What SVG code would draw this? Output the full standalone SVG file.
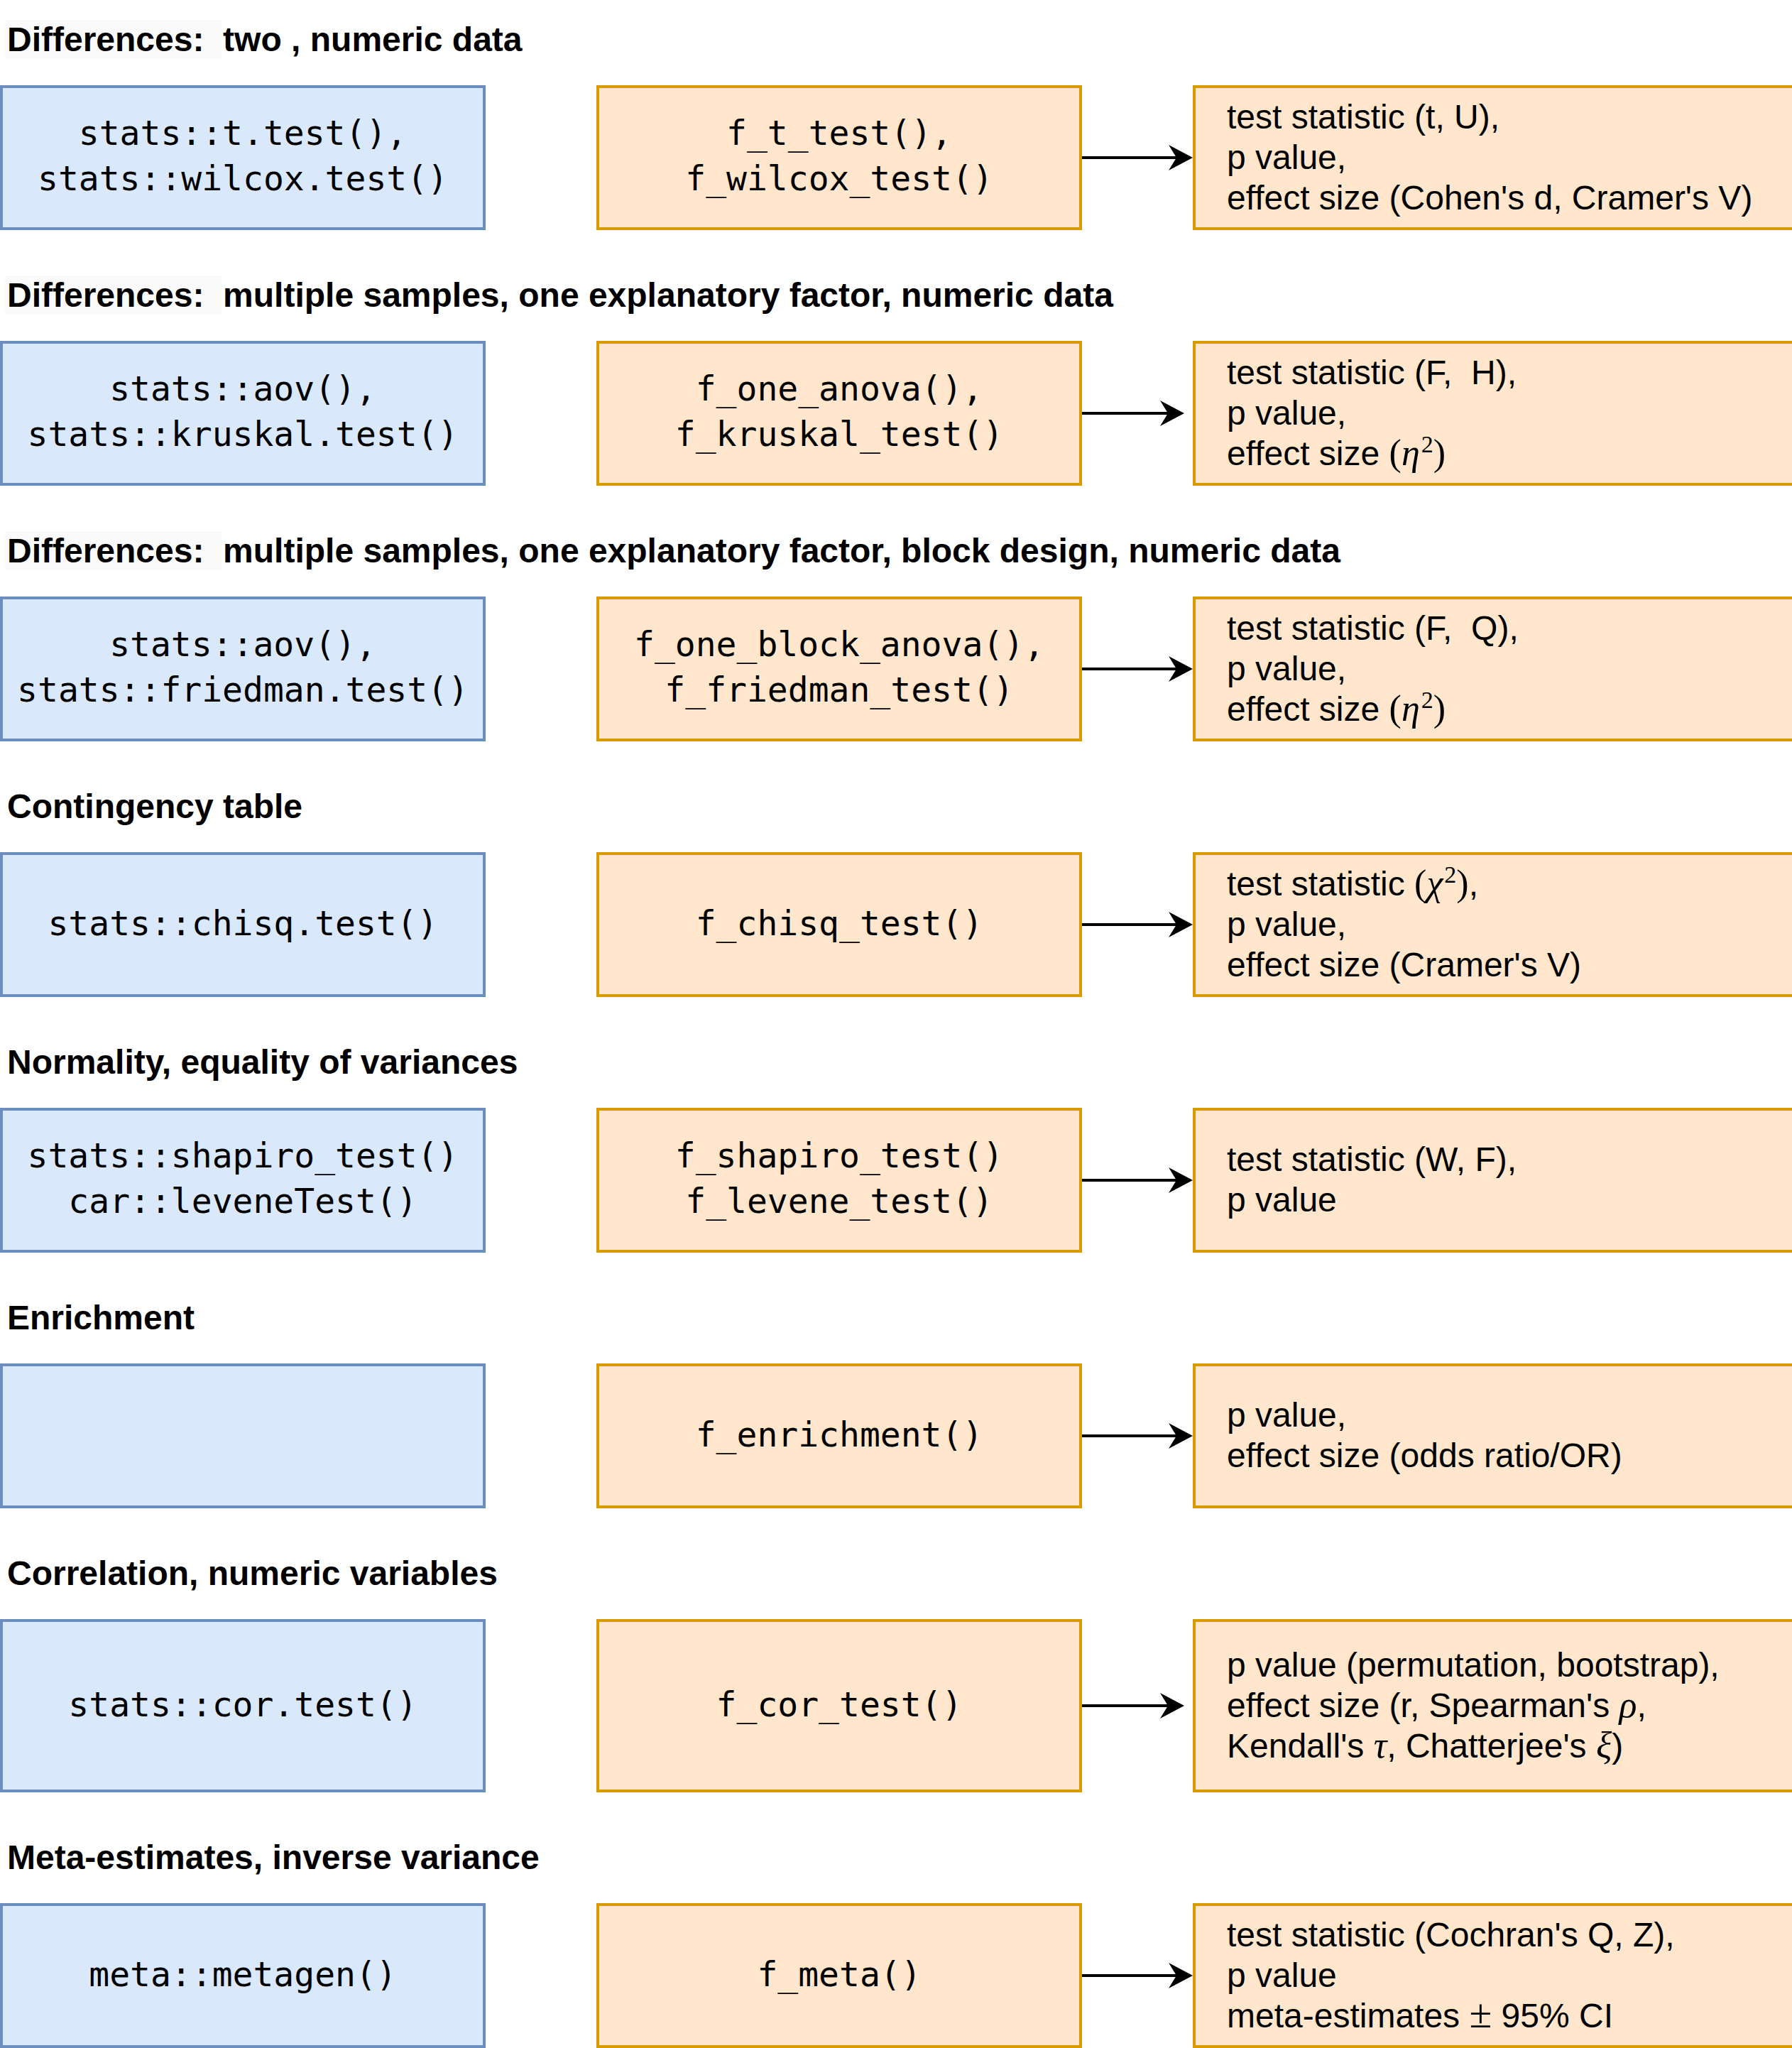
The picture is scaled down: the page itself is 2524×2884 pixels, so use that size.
<svg xmlns="http://www.w3.org/2000/svg" width="2524" height="2884" viewBox="0 0 2524 2884">
<style>
.title{font-family:"Liberation Sans",Arial,sans-serif;font-weight:bold;font-size:48px;fill:#000;white-space:pre}
.tbg{fill:#FAFAFA}
.blue{fill:#dae8fc;stroke:#6c8ebf;stroke-width:4}
.orange{fill:#ffe6cc;stroke:#d79b00;stroke-width:4}
.mono{font-family:"DejaVu Sans Mono","Liberation Mono",monospace;font-size:48px;fill:#000;text-anchor:middle;white-space:pre}
.sans{font-family:"Liberation Sans",Arial,sans-serif;font-size:48px;fill:#000;white-space:pre}
.m{font-family:"Liberation Serif","Times New Roman",serif;font-size:52px}
.mi{font-family:"Liberation Serif","Times New Roman",serif;font-size:52px;font-style:italic}
.sup{font-family:"Liberation Serif","Times New Roman",serif;font-size:34px}
.pm{font-family:"Liberation Serif","Times New Roman",serif;font-size:58px}
.conn{stroke:#000;stroke-width:4;fill:none}
</style>
<defs>
<marker id="arr" markerUnits="userSpaceOnUse" markerWidth="40" markerHeight="40" viewBox="0 -20 36 40" refX="11" refY="0" orient="auto">
<path d="M0,-18 L34,0 L0,18 L11,0 Z" fill="#000"/>
</marker>
</defs>

<g id="titles">
<rect class="tbg" x="7" y="28" width="305" height="55"/>
<text class="title" x="10" y="72">Differences:  two , numeric data</text>
<rect class="tbg" x="7" y="388" width="305" height="55"/>
<text class="title" x="10" y="432">Differences:  multiple samples, one explanatory factor, numeric data</text>
<rect class="tbg" x="7" y="748" width="305" height="55"/>
<text class="title" x="10" y="792">Differences:  multiple samples, one explanatory factor, block design, numeric data</text>
<text class="title" x="10" y="1152">Contingency table</text>
<text class="title" x="10" y="1512">Normality, equality of variances</text>
<text class="title" x="10" y="1872">Enrichment</text>
<text class="title" x="10" y="2232">Correlation, numeric variables</text>
<text class="title" x="10" y="2632">Meta-estimates, inverse variance</text>
</g>

<g id="row1-base">
<rect class="blue" x="2" y="122" width="680" height="200"/>
<text class="mono" x="342" y="204">stats::t.test(),</text>
<text class="mono" x="342" y="268">stats::wilcox.test()</text>
</g>
<g id="row1-f">
<rect class="orange" x="842" y="122" width="680" height="200"/>
<text class="mono" x="1182" y="204">f_t_test(),</text>
<text class="mono" x="1182" y="268">f_wilcox_test()</text>
</g>
<g id="row1-out">
<rect class="orange" x="1682" y="122" width="900" height="200"/>
<text class="sans" x="1728" y="181">test statistic (t, U),</text>
<text class="sans" x="1728" y="238">p value,</text>
<text class="sans" x="1728" y="295">effect size (Cohen's d, Cramer's V)</text>
</g>

<g id="row2-base">
<rect class="blue" x="2" y="482" width="680" height="200"/>
<text class="mono" x="342" y="564">stats::aov(),</text>
<text class="mono" x="342" y="628">stats::kruskal.test()</text>
</g>
<g id="row2-f">
<rect class="orange" x="842" y="482" width="680" height="200"/>
<text class="mono" x="1182" y="564">f_one_anova(),</text>
<text class="mono" x="1182" y="628">f_kruskal_test()</text>
</g>
<g id="row2-out">
<rect class="orange" x="1682" y="482" width="900" height="200"/>
<text class="sans" x="1728" y="541">test statistic (F,  H),</text>
<text class="sans" x="1728" y="598">p value,</text>
<text class="sans" x="1728" y="655">effect size <tspan class="m">(</tspan><tspan class="mi">η</tspan><tspan class="sup" dx="2" dy="-18">2</tspan><tspan class="m" dy="18">)</tspan></text>
</g>

<g id="row3-base">
<rect class="blue" x="2" y="842" width="680" height="200"/>
<text class="mono" x="342" y="924">stats::aov(),</text>
<text class="mono" x="342" y="988">stats::friedman.test()</text>
</g>
<g id="row3-f">
<rect class="orange" x="842" y="842" width="680" height="200"/>
<text class="mono" x="1182" y="924">f_one_block_anova(),</text>
<text class="mono" x="1182" y="988">f_friedman_test()</text>
</g>
<g id="row3-out">
<rect class="orange" x="1682" y="842" width="900" height="200"/>
<text class="sans" x="1728" y="901">test statistic (F,  Q),</text>
<text class="sans" x="1728" y="958">p value,</text>
<text class="sans" x="1728" y="1015">effect size <tspan class="m">(</tspan><tspan class="mi">η</tspan><tspan class="sup" dx="2" dy="-18">2</tspan><tspan class="m" dy="18">)</tspan></text>
</g>

<g id="row4-base">
<rect class="blue" x="2" y="1202" width="680" height="200"/>
<text class="mono" x="342" y="1317">stats::chisq.test()</text>
</g>
<g id="row4-f">
<rect class="orange" x="842" y="1202" width="680" height="200"/>
<text class="mono" x="1182" y="1317">f_chisq_test()</text>
</g>
<g id="row4-out">
<rect class="orange" x="1682" y="1202" width="900" height="200"/>
<text class="sans" x="1728" y="1261">test statistic <tspan class="m">(</tspan><tspan class="mi">χ</tspan><tspan class="sup" dx="2" dy="-18">2</tspan><tspan class="m" dy="18">)</tspan>,</text>
<text class="sans" x="1728" y="1318">p value,</text>
<text class="sans" x="1728" y="1375">effect size (Cramer's V)</text>
</g>

<g id="row5-base">
<rect class="blue" x="2" y="1562" width="680" height="200"/>
<text class="mono" x="342" y="1644">stats::shapiro_test()</text>
<text class="mono" x="342" y="1708">car::leveneTest()</text>
</g>
<g id="row5-f">
<rect class="orange" x="842" y="1562" width="680" height="200"/>
<text class="mono" x="1182" y="1644">f_shapiro_test()</text>
<text class="mono" x="1182" y="1708">f_levene_test()</text>
</g>
<g id="row5-out">
<rect class="orange" x="1682" y="1562" width="900" height="200"/>
<text class="sans" x="1728" y="1649">test statistic (W, F),</text>
<text class="sans" x="1728" y="1706">p value</text>
</g>

<g id="row6-base">
<rect class="blue" x="2" y="1922" width="680" height="200"/>
</g>
<g id="row6-f">
<rect class="orange" x="842" y="1922" width="680" height="200"/>
<text class="mono" x="1182" y="2037">f_enrichment()</text>
</g>
<g id="row6-out">
<rect class="orange" x="1682" y="1922" width="900" height="200"/>
<text class="sans" x="1728" y="2009">p value,</text>
<text class="sans" x="1728" y="2066">effect size (odds ratio/OR)</text>
</g>

<g id="row7-base">
<rect class="blue" x="2" y="2282" width="680" height="240"/>
<text class="mono" x="342" y="2417">stats::cor.test()</text>
</g>
<g id="row7-f">
<rect class="orange" x="842" y="2282" width="680" height="240"/>
<text class="mono" x="1182" y="2417">f_cor_test()</text>
</g>
<g id="row7-out">
<rect class="orange" x="1682" y="2282" width="900" height="240"/>
<text class="sans" x="1728" y="2361">p value (permutation, bootstrap),</text>
<text class="sans" x="1728" y="2418">effect size (r, Spearman's <tspan class="mi">ρ</tspan>,</text>
<text class="sans" x="1728" y="2475">Kendall's <tspan class="mi">τ</tspan>, Chatterjee's <tspan class="mi">ξ</tspan>)</text>
</g>

<g id="row8-base">
<rect class="blue" x="2" y="2682" width="680" height="200"/>
<text class="mono" x="342" y="2797">meta::metagen()</text>
</g>
<g id="row8-f">
<rect class="orange" x="842" y="2682" width="680" height="200"/>
<text class="mono" x="1182" y="2797">f_meta()</text>
</g>
<g id="row8-out">
<rect class="orange" x="1682" y="2682" width="900" height="200"/>
<text class="sans" x="1728" y="2741">test statistic (Cochran's Q, Z),</text>
<text class="sans" x="1728" y="2798">p value</text>
<text class="sans" x="1728" y="2855">meta-estimates <tspan class="pm">±</tspan> 95% CI</text>
</g>

<g id="connectors">
<path class="conn" d="M1524,222 H1657" marker-end="url(#arr)"/>
<path class="conn" d="M1524,582 H1645" marker-end="url(#arr)"/>
<path class="conn" d="M1524,942 H1657" marker-end="url(#arr)"/>
<path class="conn" d="M1524,1302 H1657" marker-end="url(#arr)"/>
<path class="conn" d="M1524,1662 H1657" marker-end="url(#arr)"/>
<path class="conn" d="M1524,2022 H1657" marker-end="url(#arr)"/>
<path class="conn" d="M1524,2402 H1645" marker-end="url(#arr)"/>
<path class="conn" d="M1524,2782 H1657" marker-end="url(#arr)"/>
</g>
</svg>
